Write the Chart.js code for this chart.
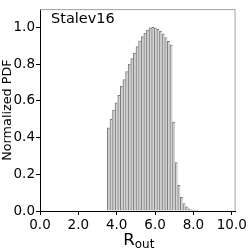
<!DOCTYPE html>
<html>
<head>
<meta charset="utf-8">
<script src="https://cdn.jsdelivr.net/npm/chart.js@4/dist/chart.umd.min.js"></script>
<style>
  body { margin: 0; background: #fff; }
  canvas { display: block; }
</style>
</head>
<body>
<canvas id="grafico" width="249" height="249"></canvas>
<script>
// centros de los bins
const centros = [3.578, 3.714, 3.850, 3.986, 4.122, 4.258, 4.394, 4.530, 4.666, 4.802,
  4.938, 5.074, 5.210, 5.346, 5.482, 5.618, 5.754, 5.890, 6.026, 6.162,
  6.298, 6.434, 6.570, 6.706, 6.842, 6.978, 7.114, 7.250, 7.386, 7.522,
  7.658, 7.794, 7.930, 8.066, 8.202];
const pdf = [0.453, 0.50, 0.55, 0.59, 0.63, 0.68, 0.716, 0.76, 0.80, 0.83,
  0.86, 0.896, 0.926, 0.95, 0.97, 0.986, 0.998, 1.0, 0.998, 0.99,
  0.98, 0.965, 0.945, 0.925, 0.905, 0.485, 0.264, 0.14, 0.074, 0.041,
  0.023, 0.012, 0.006, 0.003, 0.002];
const ticksX = [0, 2, 4, 6, 8, 10];
const ticksY = [0, 0.2, 0.4, 0.6, 0.8, 1.0];
const etiqueta = 'Stalev16';
const tituloY = 'Normalized PDF';
const tituloX = 'R';
const subX = 'out';

const fuente = "'DejaVu Sans', sans-serif";

const extras = {
  id: 'extras',
  afterDraw(chart) {
    const c = chart.ctx;
    const a = chart.chartArea;
    c.save();
    // marco arriba y derecha
    c.strokeStyle = '#a0a0a0';
    c.lineWidth = 1;
    c.beginPath();
    c.moveTo(a.left, a.top + 0.5);
    c.lineTo(a.right - 0.5, a.top + 0.5);
    c.lineTo(a.right - 0.5, a.bottom);
    c.stroke();
    // texto Stalev16
    c.fillStyle = '#000';
    c.font = `14.5px ${fuente}`;
    c.textAlign = 'left';
    c.textBaseline = 'middle';
    c.fillText(etiqueta, 51, 19);
    // titulo eje x con subindice
    c.font = `16.5px ${fuente}`;
    c.textBaseline = 'alphabetic';
    const wR = c.measureText(tituloX).width;
    c.font = `12px ${fuente}`;
    const wS = c.measureText(subX).width;
    const x0 = (a.left + a.right) / 2 - (wR + wS) / 2 + 1;
    c.font = `16.5px ${fuente}`;
    c.fillText(tituloX, x0, 245);
    c.font = `12px ${fuente}`;
    c.fillText(subX, x0 + wR, 248);
    c.restore();
  }
};

new Chart(document.getElementById('grafico'), {
  type: 'bar',
  data: {
    datasets: [{
      data: centros.map((x, i) => ({ x, y: pdf[i] })),
      backgroundColor: '#d2d2d2',
      borderColor: '#7a7a7a',
      borderWidth: { left: 1, top: 1, right: 0, bottom: 0 },
      borderSkipped: false,
      barPercentage: 1,
      categoryPercentage: 1
    }]
  },
  options: {
    responsive: false,
    animation: false,
    layout: { padding: { top: 7, right: 12, left: 0, bottom: 0 } },
    plugins: { legend: { display: false }, tooltip: { enabled: false } },
    scales: {
      x: {
        type: 'linear',
        offset: false,
        min: 0,
        max: 10.2,
        afterBuildTicks: s => { s.ticks = ticksX.map(v => ({ value: v })); },
        afterFit: s => { s.height = 38; },
        grid: { offset: false, drawOnChartArea: false, drawTicks: true, tickLength: 4, color: '#000' },
        border: { color: '#000', width: 1 },
        ticks: {
          color: '#000',
          padding: 2,
          maxRotation: 0,
          font: { family: fuente, size: 13.5 },
          callback: v => v.toFixed(1)
        }
      },
      y: {
        min: 0,
        max: 1.1,
        afterBuildTicks: s => { s.ticks = ticksY.map(v => ({ value: v })); },
        afterFit: s => { s.width = 40; },
        grid: { drawOnChartArea: false, drawTicks: true, tickLength: 4, color: '#000' },
        border: { color: '#000', width: 1 },
        title: {
          display: true,
          text: tituloY,
          color: '#000',
          font: { family: fuente, size: 12.8 },
          padding: 0
        },
        ticks: {
          color: '#000',
          padding: 1,
          font: { family: fuente, size: 13.5 },
          callback: v => v.toFixed(1)
        }
      }
    }
  },
  plugins: [extras]
});
</script>
</body>
</html>
